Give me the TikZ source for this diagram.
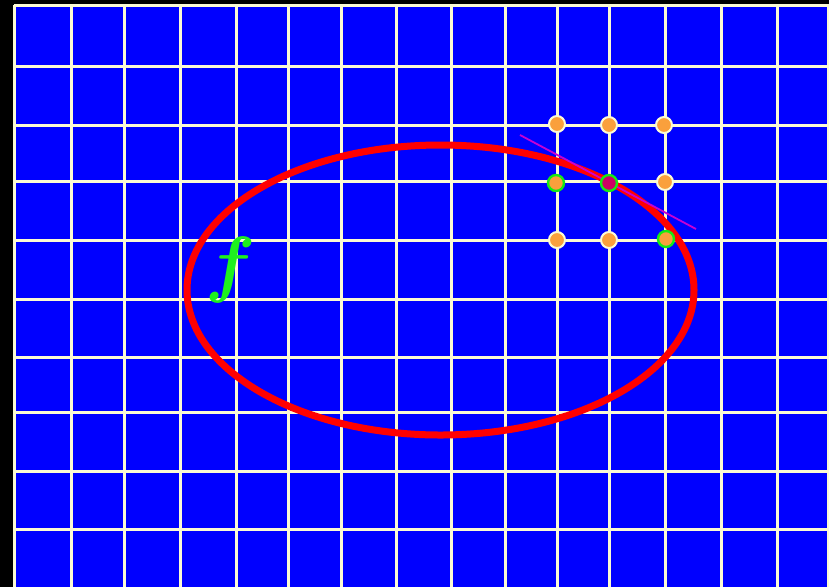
\documentclass[tikz,border=0pt]{standalone}
\usepackage{amsmath}
\usepackage{bm}
\usetikzlibrary{positioning}
\definecolor{gridcream}{RGB}{252,250,212}
\definecolor{dotorange}{RGB}{250,160,60}
\definecolor{ringgreen}{RGB}{20,235,20}
\definecolor{fgreen}{RGB}{30,240,30}
\definecolor{tanmagenta}{RGB}{200,0,210}
\definecolor{hitred}{RGB}{205,0,100}

\begin{document}
\begin{tikzpicture}[x=1pt,y=-1pt,
  gl/.style={draw=gridcream,line width=3pt},
  pt/.style={circle,fill=dotorange,draw=gridcream,line width=2pt,minimum size=16pt,inner sep=0pt},
  hit/.style={pt,draw=ringgreen,line width=2.4pt},
  curve/.style={draw=red,line width=7pt},
  tang/.style={draw=tanmagenta,line width=1.8pt}]
\fill[black] (0,0) rectangle (829,587);
\useasboundingbox (0,0) rectangle (829,587);
\fill[blue] (14,5) rectangle (829,587);
% grid
\foreach \x in {14,71,124,180,236,288,341,396,451,505,557,609,665,721,777,828}
  \draw[gl] (\x,5) -- (\x,587);
\foreach \y in {5,66,125,181,240,299,357,412,471,529}
  \draw[gl] (14,\y) -- (829,\y);
% level set
\draw[curve] (440.5,290) ellipse [x radius=253.5,y radius=145];
\node[text=fgreen,inner sep=0pt] (lbl) at (231,270) {\scalebox{7.4}{$\bm{f}$}};
% tangent
\coordinate (t1) at (520,135);
\coordinate (t2) at (696,229);
\draw[tang] (t1) -- (t2);
% sample points
\node[pt] (p11) at (557,124) {};
\node[pt] (p12) at (609,125) {};
\node[pt] (p13) at (664,125) {};
\node[hit] (p21) at (556,183) {};
\node[hit,fill=hitred] (p22) at (609,183) {};
\node[pt] (p23) at (665,182) {};
\node[pt] (p31) at (557,240) {};
\node[pt] (p32) at (609,240) {};
\node[hit] (p33) at (666,239) {};
\end{tikzpicture}
\end{document}
